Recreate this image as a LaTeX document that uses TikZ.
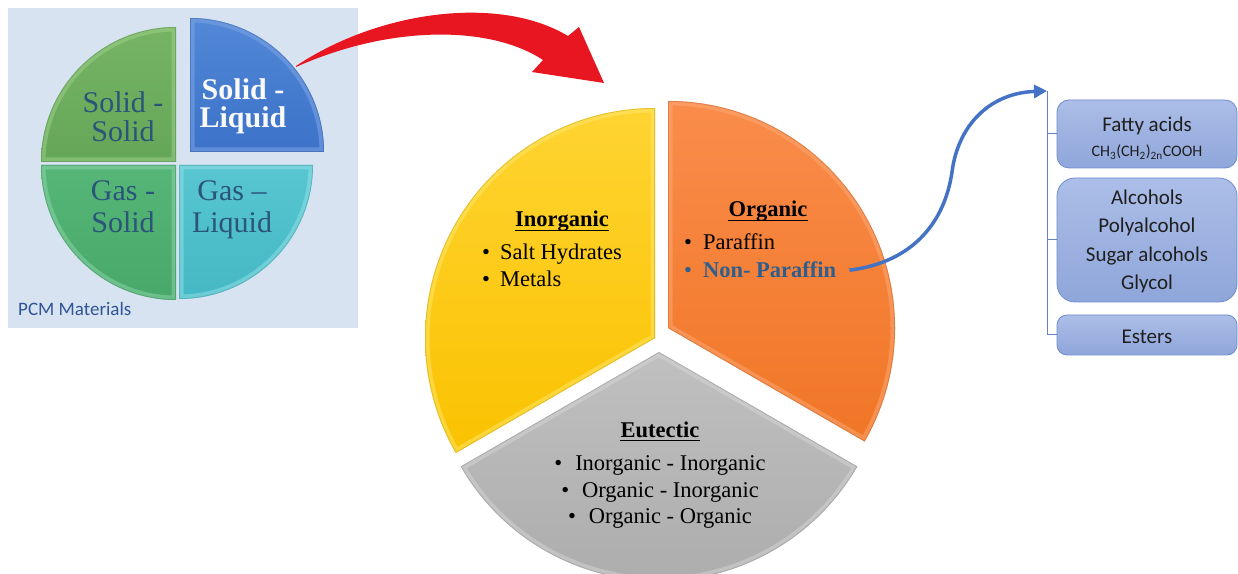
\documentclass[tikz,border=0pt]{standalone}
\usepackage{fontspec}
\setmainfont{Liberation Serif}
\newfontfamily\carlito{Carlito}
\usetikzlibrary{arrows.meta}

% panel and phase colours
\definecolor{pcmbg}{RGB}{216,227,242}
\definecolor{ssTop}{RGB}{118,180,100}
\definecolor{ssBot}{RGB}{100,166,88}
\definecolor{ssRim}{RGB}{160,210,140}
\definecolor{gsTop}{RGB}{86,182,120}
\definecolor{gsBot}{RGB}{72,168,106}
\definecolor{gsRim}{RGB}{140,214,170}
\definecolor{glTop}{RGB}{88,198,208}
\definecolor{glBot}{RGB}{68,184,196}
\definecolor{glRim}{RGB}{150,226,232}
\definecolor{slTop}{RGB}{82,136,214}
\definecolor{slBot}{RGB}{60,114,200}
\definecolor{slRim}{RGB}{130,168,232}
\definecolor{phasetxt}{RGB}{42,84,122}
\definecolor{pcmlabel}{RGB}{47,85,151}
% main pie colours
\definecolor{yTop}{RGB}{255,212,50}
\definecolor{yBot}{RGB}{250,194,0}
\definecolor{yRim}{RGB}{255,232,110}
\definecolor{oTop}{RGB}{250,140,75}
\definecolor{oBot}{RGB}{240,118,38}
\definecolor{oRim}{RGB}{252,170,120}
\definecolor{gTop}{RGB}{192,192,192}
\definecolor{gBot}{RGB}{170,170,170}
\definecolor{gRim}{RGB}{214,214,214}
% arrows and sub-classes
\definecolor{arrowred}{RGB}{232,22,32}
\definecolor{linkblue}{RGB}{68,114,196}
\definecolor{nonparblue}{RGB}{46,94,142}
\definecolor{boxtop}{RGB}{172,190,232}
\definecolor{boxbot}{RGB}{143,166,218}
\definecolor{boxedge}{RGB}{110,140,205}
\definecolor{treeblue}{RGB}{100,130,200}

% a pie sector with a bevelled rim:
% #1 centre, #2 start angle, #3 end angle, #4 radius, #5 top colour, #6 bottom colour, #7 rim colour
\newcommand\bevelsector[7]{%
  \path[top color=#5,bottom color=#6] #1 -- ++(#2:#4) arc[start angle=#2,end angle=#3,radius=#4] -- cycle;
  \begin{scope}
    \clip #1 -- ++(#2:#4) arc[start angle=#2,end angle=#3,radius=#4] -- cycle;
    \draw[#7,line width=9pt,line join=round,opacity=.5] #1 -- ++(#2:#4) arc[start angle=#2,end angle=#3,radius=#4] -- cycle;
    \draw[#6!75!black,line width=1.6pt,opacity=.4] #1 -- ++(#2:#4) arc[start angle=#2,end angle=#3,radius=#4] -- cycle;
  \end{scope}}

\tikzset{
  phase/.style={align=center,inner sep=0pt,text=phasetxt},
  pietxt/.style={inner sep=0pt,font=\fontsize{22.5}{27}\selectfont},
  piehead/.style={pietxt,font=\fontsize{22.5}{27}\selectfont\bfseries,anchor=base},
  subbox/.style={draw=boxedge,line width=0.8pt,top color=boxtop,bottom color=boxbot,
    minimum width=180pt,minimum height=#1,inner sep=0pt},
  subtxt/.style={inner sep=0pt,anchor=base,text=black!88,font=\carlito\fontsize{21}{28.5}\selectfont,align=center},
  treeline/.style={draw=treeblue,line width=1pt},
  linkarrow/.style={draw=linkblue,line width=3.5pt,-{Triangle[length=13pt,width=13pt]}}
}

\begin{document}
\begin{tikzpicture}[x=1pt,y=1pt]
\useasboundingbox (0,0) rectangle (1238,573);
\clip (0,0) rectangle (1238,573);

% ---------- PCM phase-change panel ----------
\fill[pcmbg] (8,245) rectangle (358,565);
\bevelsector{(176,411)}{90}{180}{135}{ssTop}{ssBot}{ssRim}
\bevelsector{(176,408)}{180}{270}{135}{gsTop}{gsBot}{gsRim}
\bevelsector{(179,408)}{270}{360}{134}{glTop}{glBot}{glRim}
\bevelsector{(190,421)}{0}{90}{134}{slTop}{slBot}{slRim}

% multi-line labels: the base anchor sits on the last line
\node[phase,anchor=base,font=\fontsize{30}{29}\selectfont] (ss) at (123,431) {Solid -\\Solid};
\node[phase,anchor=base,text=white!96!gray,font=\fontsize{30}{28}\selectfont\bfseries] (sl) at (243,445) {Solid -\\Liquid};
\node[phase,anchor=base,font=\fontsize{30}{32}\selectfont] (gs) at (123,340) {Gas -\\Solid};
\node[phase,anchor=base,font=\fontsize{30}{32}\selectfont] (gl) at (232,340) {Gas --\\Liquid};
\node[anchor=base west,inner sep=0pt,text=pcmlabel,font=\carlito\fontsize{19}{19}\selectfont] (pcm) at (18,257) {PCM Materials};

% ---------- curved red arrow ----------
\fill[arrowred] (296,507) .. controls (380,563) and (500,578) .. (568,537)
  -- (579,546) -- (604,490) -- (532,501) -- (543,513)
  .. controls (490,548) and (390,548) .. (296,506) -- cycle;

% ---------- main PCM classes ----------
\bevelsector{(655,235)}{90}{210}{230}{yTop}{yBot}{yRim}
\bevelsector{(668,245)}{90}{-30}{227}{oTop}{oBot}{oRim}
\bevelsector{(659,221)}{210}{330}{229}{gTop}{gBot}{gRim}

% inorganic
\node[piehead] (inorg) at (562,346) {Inorganic};
\draw[line width=1.4pt] ([yshift=-3.5pt]inorg.base west) -- ([yshift=-3.5pt]inorg.base east);
\node[pietxt,anchor=base west] (salt) at (482,313) {\textbullet\hspace{10pt}Salt Hydrates};
\node[pietxt,anchor=base west] (metals) at (482,286) {\textbullet\hspace{10pt}Metals};

% organic
\node[piehead] (org) at (768,356) {Organic};
\draw[line width=1.4pt] ([yshift=-3.5pt]org.base west) -- ([yshift=-3.5pt]org.base east);
\node[pietxt,anchor=base west] (paraffin) at (684,323) {\textbullet\hspace{11pt}Paraffin};
\node[pietxt,anchor=base west,text=nonparblue] (nonpar) at (684,295) {\textbullet\hspace{11pt}\textbf{Non- Paraffin}};

% eutectic
\node[piehead] (eut) at (660,136) {Eutectic};
\draw[line width=1.4pt] ([yshift=-3.5pt]eut.base west) -- ([yshift=-3.5pt]eut.base east);
\node[pietxt,anchor=base] (eutA) at (660,103) {\textbullet\hspace{13pt}Inorganic - Inorganic};
\node[pietxt,anchor=base] (eutB) at (660,76) {\textbullet\hspace{13pt}Organic - Inorganic};
\node[pietxt,anchor=base] (eutC) at (660,50) {\textbullet\hspace{13pt}Organic - Organic};

% ---------- non-paraffin sub-classes ----------
\node[subbox=68pt,rounded corners=12pt] (fatty) at (1147,439) {};
\node[subbox=124pt,rounded corners=18pt] (alcohols) at (1147,333) {};
\node[subbox=40pt,rounded corners=10pt] (esters) at (1147,238) {};

\node[subtxt] (fattytxt) at (1147,441) {Fatty acids};
\node[subtxt,font=\carlito\fontsize{16}{16}\selectfont] (formula) at (1147,416)
  {CH\textsubscript{3}(CH\textsubscript{2})\textsubscript{2n}COOH};
\node[subtxt] (alctxt) at (1147,283) {Alcohols\\Polyalcohol\\Sugar alcohols\\Glycol};
\node[subtxt] (esttxt) at (1147,229) {Esters};

\coordinate (trunk) at (1047,482);
\draw[treeline] (trunk) |- (esters.west);
\draw[treeline] (fatty.west) -- (fatty.west -| trunk);
\draw[treeline] (alcohols.west) -- (alcohols.west -| trunk);

\draw[linkarrow] ([xshift=13pt]nonpar.east) .. controls (915,311) and (945,353) .. (952,401)
  .. controls (958,448) and (990,480) .. (trunk);
\end{tikzpicture}
\end{document}
